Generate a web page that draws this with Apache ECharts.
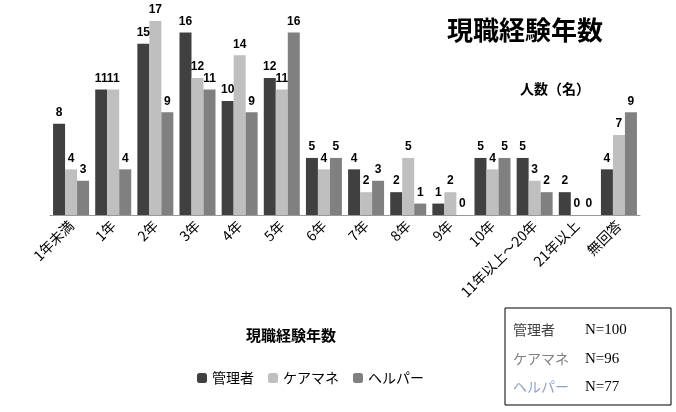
<!DOCTYPE html>
<html><head><meta charset="utf-8">
<script src="https://cdn.jsdelivr.net/npm/echarts@6/dist/echarts.min.js"></script>
<style>html,body{margin:0;padding:0;background:#fff}#c{width:676px;height:412px}</style>
</head><body><div id="c"></div>
<script>
const categories=['1年未満','1年','2年','3年','4年','5年','6年','7年','8年','9年','10年','11年以上～20年','21年以上','無回答'];
const manager=[8,11,15,16,10,12,5,4,2,1,5,5,2,4];
const caremane=[4,11,17,12,14,11,4,2,5,2,4,3,0,7];
const helper=[3,4,9,11,9,16,5,3,1,0,5,2,0,9];
const seriesNames=['管理者','ケアマネ','ヘルパー'];
const colors=['#404040','#bfbfbf','#808080'];
const F='"Noto Sans CJK JP", sans-serif';
const chart=echarts.init(document.getElementById('c'));
const mk=(name,data,i)=>({name,type:'bar',data,barWidth:12,barGap:'0%',itemStyle:{color:colors[i]},
 label:{show:true,position:'top',color:'#000',fontWeight:'bold',fontSize:12,fontFamily:'Arial'}});
chart.setOption({
 animation:false,
 title:{text:'現職経験年数',right:68,top:12,textStyle:{fontFamily:F,fontSize:26,fontWeight:'bold',color:'#000'}},
 grid:{left:50,right:36,top:21,bottom:197},
 xAxis:{type:'category',data:categories,axisTick:{show:false},axisLine:{lineStyle:{color:'#999'}},
  axisLabel:{rotate:45,interval:0,fontFamily:F,fontSize:14,color:'#000',margin:8}},
 yAxis:{type:'value',min:0,max:17,show:false},
 legend:{data:seriesNames,left:192,top:366,itemWidth:10,itemHeight:10,itemGap:14,
  textStyle:{fontFamily:F,fontSize:14,color:'#000'}},
 series:[mk(seriesNames[0],manager,0),mk(seriesNames[1],caremane,1),mk(seriesNames[2],helper,2)],
 graphic:[
  {type:'text',left:520,top:82,style:{text:'人数（名）',font:'bold 14px '+F,fill:'#000'}},
  {type:'text',left:246,top:328,style:{text:'現職経験年数',font:'bold 15px '+F,fill:'#000'}},
  {type:'rect',shape:{x:505,y:308,width:166,height:97},style:{fill:'#fff',stroke:'#000',lineWidth:1}},
  {type:'text',left:513,top:323,style:{text:'管理者',font:'14px '+F,fill:'#404040'}},
  {type:'text',left:585,top:323,style:{text:'N=100',font:'15px "Liberation Serif"',fill:'#000'}},
  {type:'text',left:513,top:352,style:{text:'ケアマネ',font:'14px '+F,fill:'#808080'}},
  {type:'text',left:585,top:352,style:{text:'N=96',font:'15px "Liberation Serif"',fill:'#000'}},
  {type:'text',left:513,top:380,style:{text:'ヘルパー',font:'14px '+F,fill:'#8fa0c8'}},
  {type:'text',left:585,top:380,style:{text:'N=77',font:'15px "Liberation Serif"',fill:'#000'}}
 ]
});
</script></body></html>
